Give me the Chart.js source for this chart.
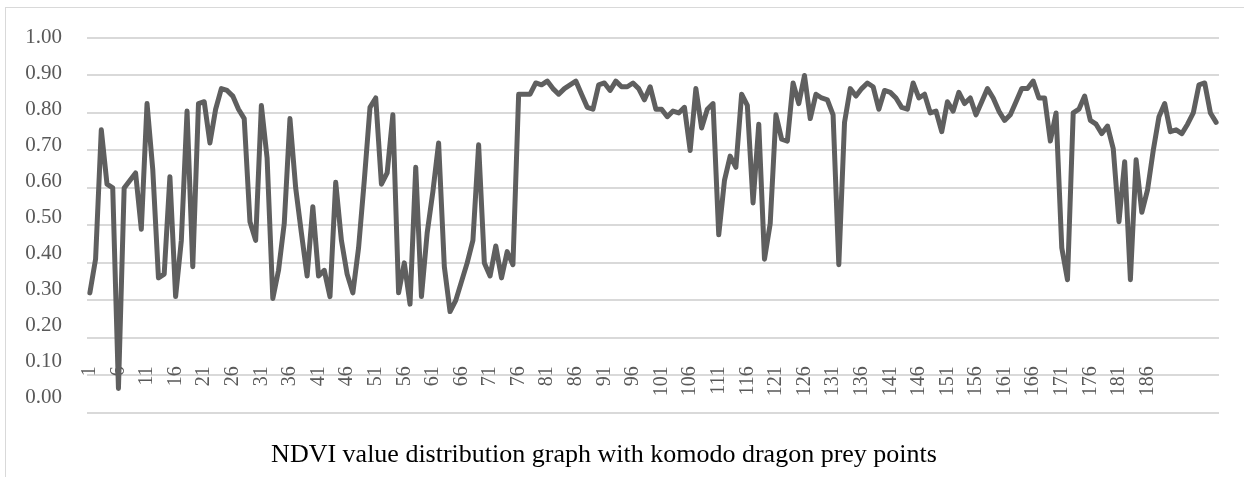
<!DOCTYPE html>
<html>
<head>
<meta charset="utf-8">
<script src="https://cdn.jsdelivr.net/npm/chart.js@4.4.1/dist/chart.umd.min.js"></script>
<style>
    html, body { margin: 0; padding: 0; background: #fff; overflow: hidden; }
    #frame { position: absolute; left: 5px; top: 7px; width: 1300px; height: 520px; border: 1px solid #d9d9d9; }
    #wrap { position: absolute; left: 0; top: 0; width: 1244px; height: 477px; }
</style>
</head>
<body>
<div id="frame"></div>
<div id="wrap"><canvas id="ndviChart" width="1244" height="477"></canvas></div>
<script>
// NDVI values, one per prey point (1..198)
const ndviValues = [
    0.32, 0.41, 0.755, 0.61, 0.60, 0.065, 0.60, 0.62, 0.64, 0.49,
    0.825, 0.65, 0.36, 0.37, 0.63, 0.31, 0.46, 0.805, 0.39, 0.825,
    0.83, 0.72, 0.81, 0.865, 0.86, 0.845, 0.81, 0.785, 0.51, 0.46,
    0.82, 0.68, 0.305, 0.38, 0.505, 0.785, 0.60, 0.48, 0.365, 0.55,
    0.365, 0.38, 0.31, 0.615, 0.46, 0.37, 0.32, 0.44, 0.62, 0.815,
    0.84, 0.61, 0.64, 0.795, 0.32, 0.40, 0.29, 0.655, 0.31, 0.48,
    0.59, 0.72, 0.39, 0.27, 0.30, 0.35, 0.40, 0.46, 0.715, 0.40,
    0.365, 0.445, 0.36, 0.43, 0.395, 0.85, 0.85, 0.85, 0.88, 0.875,
    0.885, 0.865, 0.85, 0.865, 0.875, 0.885, 0.85, 0.815, 0.81, 0.875,
    0.88, 0.86, 0.885, 0.87, 0.87, 0.88, 0.865, 0.835, 0.87, 0.81,
    0.81, 0.79, 0.805, 0.80, 0.815, 0.70, 0.865, 0.76, 0.81, 0.825,
    0.475, 0.62, 0.685, 0.655, 0.85, 0.82, 0.56, 0.77, 0.41, 0.505,
    0.795, 0.73, 0.725, 0.88, 0.825, 0.90, 0.785, 0.85, 0.84, 0.835,
    0.795, 0.395, 0.775, 0.865, 0.845, 0.865, 0.88, 0.87, 0.81, 0.86,
    0.855, 0.84, 0.815, 0.81, 0.88, 0.84, 0.85, 0.80, 0.805, 0.75,
    0.83, 0.805, 0.855, 0.825, 0.84, 0.795, 0.83, 0.865, 0.84, 0.805,
    0.78, 0.795, 0.83, 0.865, 0.865, 0.885, 0.84, 0.84, 0.725, 0.80,
    0.44, 0.355, 0.80, 0.81, 0.845, 0.78, 0.77, 0.745, 0.765, 0.705,
    0.51, 0.67, 0.355, 0.675, 0.535, 0.595, 0.70, 0.79, 0.825, 0.75,
    0.755, 0.745, 0.77, 0.80, 0.875, 0.88, 0.80, 0.775
];

// category labels 1..198; only every 5th up to 186 is printed on the axis
const categories = ndviValues.map((v, i) => String(i + 1));
const labelStep = 5;
const lastPrintedLabel = 186;

// value axis: gridlines every 0.1, printed labels 0.00 .. 1.00
const yMin = 0;
const yMax = 1;
const yStep = 0.1;
const yTickValues = [0, 0.1, 0.2, 0.3, 0.4, 0.5, 0.6, 0.7, 0.8, 0.9, 1.0];

const chartTitle = 'NDVI value distribution graph with komodo dragon prey points';

const serif = "'Liberation Serif', 'Times New Roman', serif";
const textGray = '#595959';

const ctx = document.getElementById('ndviChart').getContext('2d');
new Chart(ctx, {
    type: 'line',
    data: {
        labels: categories,
        datasets: [{
            data: ndviValues,
            yAxisID: 'y',
            borderColor: '#5f5f5f',
            borderWidth: 5,
            pointRadius: 0,
            tension: 0,
            borderJoinStyle: 'round',
            borderCapStyle: 'round'
        }]
    },
    options: {
        responsive: false,
        animation: false,
        devicePixelRatio: 1,
        layout: { padding: { left: -11, right: 25, top: 38, bottom: 0 } },
        plugins: {
            legend: { display: false },
            tooltip: { enabled: false },
            title: {
                display: true,
                text: chartTitle,
                position: 'bottom',
                color: '#000',
                font: { family: serif, size: 26, weight: 'normal' },
                padding: { top: 27, bottom: 6 }
            }
        },
        scales: {
            x: {
                type: 'category',
                offset: true,
                position: { y: 0.124 },
                grid: { display: false, drawTicks: false },
                border: { display: false },
                ticks: {
                    autoSkip: false,
                    minRotation: 90,
                    maxRotation: 90,
                    padding: 0,
                    color: textGray,
                    font: { family: serif, size: 20 },
                    callback: (value, index) =>
                        (index % labelStep === 0 && index < lastPrintedLabel) ? categories[index] : ''
                },
                afterFit: scale => { scale.height = 0; }
            },
            // data axis: carries the gridlines only
            y: {
                position: 'left',
                min: yMin,
                max: yMax,
                grid: { color: '#d9d9d9', lineWidth: 2, drawTicks: false },
                border: { display: false },
                ticks: { display: false, stepSize: yStep },
                afterFit: scale => { scale.width = 0; }
            },
            // label axis: the original prints its labels slightly tighter than the grid
            yText: {
                position: 'left',
                min: -0.042,
                max: 0.9986,
                grid: { display: false, drawTicks: false },
                border: { display: false },
                afterBuildTicks: axis => { axis.ticks = yTickValues.map(v => ({ value: v })); },
                ticks: {
                    padding: 25,
                    color: textGray,
                    font: { family: serif, size: 21 },
                    callback: v => v.toFixed(2)
                },
                afterFit: scale => { scale.width = 98; }
            }
        }
    }
});
</script>
</body>
</html>
